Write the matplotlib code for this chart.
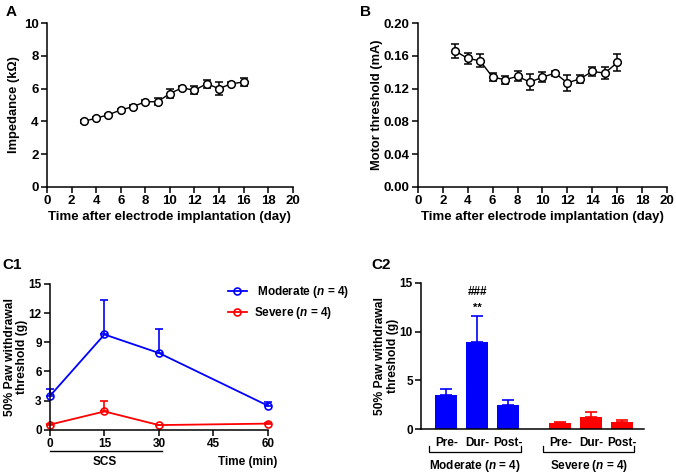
import matplotlib
matplotlib.use('Agg')
import matplotlib.pyplot as plt
import numpy as np

plt.rcParams['font.family'] = ['Liberation Sans', 'DejaVu Sans']
plt.rcParams['font.weight'] = 'bold'
plt.rcParams['axes.labelweight'] = 'bold'
plt.rcParams['mathtext.fontset'] = 'custom'
plt.rcParams['mathtext.it'] = 'Liberation Sans:italic:bold'
plt.rcParams['mathtext.rm'] = 'Liberation Sans:bold'

# Panel A / B: daily measurements after implantation
days = [3, 4, 5, 6, 7, 8, 9, 10, 11, 12, 13, 14, 15, 16]
impedance = [4.0, 4.2, 4.4, 4.7, 4.9, 5.2, 5.2, 5.7, 6.05, 5.9, 6.3, 6.0, 6.3, 6.4]
impedance_err = [0.08, 0.08, 0.08, 0.08, 0.08, 0.1, 0.2, 0.25, 0.1, 0.25, 0.25, 0.4, 0.1, 0.25]
motor = [0.166, 0.157, 0.154, 0.134, 0.131, 0.135, 0.128, 0.134, 0.139, 0.127, 0.132, 0.141, 0.139, 0.152]
motor_err = [0.008, 0.007, 0.008, 0.005, 0.005, 0.006, 0.010, 0.006, 0.003, 0.010, 0.005, 0.006, 0.007, 0.010]

# Panel C1: paw withdrawal threshold over time
times = [0, 15, 30, 60]
moderate = [3.5, 9.8, 7.9, 2.5]
moderate_err = [0.7, 3.55, 2.45, 0.4]
severe = [0.55, 1.9, 0.5, 0.65]
severe_err = [0.05, 1.1, 0.05, 0.05]

# Panel C2: grouped bars
phases = ['Pre-', 'Dur-', 'Post-']
bar_moderate = [3.5, 8.9, 2.5]
bar_moderate_err = [0.65, 2.7, 0.45]
bar_severe = [0.6, 1.25, 0.75]
bar_severe_err = [0.08, 0.45, 0.2]

BLUE = '#0000ff'
RED = '#ff0000'


def style_axes(ax, size):
    ax.spines['top'].set_visible(False)
    ax.spines['right'].set_visible(False)
    ax.spines['left'].set_linewidth(1.1)
    ax.spines['bottom'].set_linewidth(1.1)
    ax.tick_params(direction='out', length=4, width=1.1, labelsize=size, pad=2)
    for lab in ax.get_xticklabels() + ax.get_yticklabels():
        lab.set_fontweight('bold')


fig = plt.figure(figsize=(6.76, 4.73), dpi=100)

# ---- A ----
axA = fig.add_axes([0.0695, 0.605, 0.3635, 0.346])
axA.errorbar(days, impedance, yerr=impedance_err, color='black', lw=1,
             marker='o', ms=5.5, mfc='white', mec='black', mew=1.1,
             capsize=3, elinewidth=1.1, capthick=1.1)
axA.set_xlim(0, 20)
axA.set_ylim(0, 10)
axA.set_xticks(range(0, 21, 2))
axA.set_yticks(range(0, 11, 2))
axA.set_xlabel('Time after electrode implantation (day)', fontsize=9.5, labelpad=3)
axA.set_ylabel('Impedance (k\u03a9)', fontsize=9.3)
axA.yaxis.set_label_coords(-0.11, 0.5)
style_axes(axA, 9.5)
fig.text(0.008, 0.99, 'A', fontsize=11, fontweight='bold', va='top')

# ---- B ----
axB = fig.add_axes([0.618, 0.605, 0.369, 0.346])
axB.errorbar(days, motor, yerr=motor_err, color='black', lw=1,
             marker='o', ms=5.5, mfc='white', mec='black', mew=1.1,
             capsize=3, elinewidth=1.1, capthick=1.1)
axB.set_xlim(0, 20)
axB.set_ylim(0, 0.20)
axB.set_xticks(range(0, 21, 2))
yt = np.arange(0, 0.201, 0.04)
axB.set_yticks(yt)
axB.set_yticklabels([f'{v:.2f}' for v in yt])
axB.set_xlabel('Time after electrode implantation (day)', fontsize=9.5, labelpad=3)
axB.set_ylabel('Motor threshold (mA)', fontsize=9.3)
axB.yaxis.set_label_coords(-0.14, 0.5)
style_axes(axB, 9.5)
fig.text(0.532, 0.99, 'B', fontsize=11, fontweight='bold', va='top')

# ---- C1 ----
axC1 = fig.add_axes([0.074, 0.091, 0.322, 0.309])
axC1.errorbar(times, moderate, yerr=[np.zeros(4), moderate_err], color=BLUE,
              lw=1.3, marker='o', ms=5, mfc='none', mec=BLUE, mew=1.2,
              capsize=3, elinewidth=1.2, capthick=1.2, clip_on=False,
              label=' Moderate ($\\it{n}$ = 4)')
axC1.errorbar(times, severe, yerr=[np.zeros(4), severe_err], color=RED,
              lw=1.3, marker='o', ms=5, mfc='none', mec=RED, mew=1.2,
              capsize=3, elinewidth=1.2, capthick=1.2, clip_on=False,
              label='Severe ($\\it{n}$ = 4)')
axC1.set_xlim(0, 60)
axC1.set_ylim(0, 15)
axC1.set_xticks([0, 15, 30, 45, 60])
axC1.set_yticks(range(0, 16, 3))
axC1.set_ylabel('50% Paw withdrawal\nthreshold (g)', fontsize=8.7, linespacing=1.05)
axC1.yaxis.set_label_coords(-0.10, 0.5)
style_axes(axC1, 8.5)
trans = axC1.get_xaxis_transform()
axC1.plot([0, 31], [-0.145, -0.145], color='black', lw=1, transform=trans, clip_on=False)
axC1.text(15, -0.22, 'SCS', transform=trans, ha='center', va='center', fontsize=8.5, fontweight='bold')
axC1.text(54.6, -0.22, 'Time (min)', transform=trans, ha='center', va='center', fontsize=8.5, fontweight='bold')
handles, labels = axC1.get_legend_handles_labels()
handles = [h[0] for h in handles]
fig.legend(handles, labels, loc='upper left', bbox_to_anchor=(0.33, 0.41),
           frameon=False, fontsize=8.5, handlelength=1.6, handletextpad=0.6,
           labelspacing=0.45, borderaxespad=0)
fig.text(0.004, 0.455, 'C1', fontsize=11, fontweight='bold', va='top')

# ---- C2 ----
axC2 = fig.add_axes([0.623, 0.093, 0.330, 0.309])
pos_mod = np.array([0, 1, 2])
pos_sev = pos_mod + 3.68
axC2.bar(pos_mod, bar_moderate, width=0.7, color=BLUE,
         yerr=[np.zeros(3), bar_moderate_err],
         error_kw=dict(ecolor=BLUE, elinewidth=1.2, capsize=4, capthick=1.2))
axC2.bar(pos_sev, bar_severe, width=0.7, color=RED,
         yerr=[np.zeros(3), bar_severe_err],
         error_kw=dict(ecolor=RED, elinewidth=1.2, capsize=4, capthick=1.2))
axC2.set_xlim(-0.81, 6.39)
axC2.set_ylim(0, 15)
axC2.set_yticks([0, 5, 10, 15])
axC2.set_xticks(list(pos_mod) + list(pos_sev))
axC2.set_xticklabels(phases + phases)
axC2.set_ylabel('50% Paw withdrawal\nthreshold (g)', fontsize=8.7, linespacing=1.05)
axC2.yaxis.set_label_coords(-0.10, 0.5)
style_axes(axC2, 8.5)
axC2.tick_params(axis='x', length=0, pad=6)
axC2.text(1, 12.4, '**', ha='center', va='center', fontsize=8, fontweight='bold')
axC2.text(1, 14.1, '###', ha='center', va='center', fontsize=8.5, fontweight='bold')
trans2 = axC2.get_xaxis_transform()
for x0, x1, name in [(-0.55, 2.42, 'Moderate ($\\it{n}$ = 4)'),
                     (3.13, 6.06, 'Severe ($\\it{n}$ = 4)')]:
    axC2.plot([x0, x0, x1, x1], [-0.116, -0.158, -0.158, -0.116], color='black',
              lw=0.9, transform=trans2, clip_on=False)
    axC2.text((x0 + x1) / 2, -0.25, name, transform=trans2, ha='center', va='center',
              fontsize=8.5, fontweight='bold')
fig.text(0.549, 0.455, 'C2', fontsize=11, fontweight='bold', va='top')

fig.savefig('out.png', dpi=100)
